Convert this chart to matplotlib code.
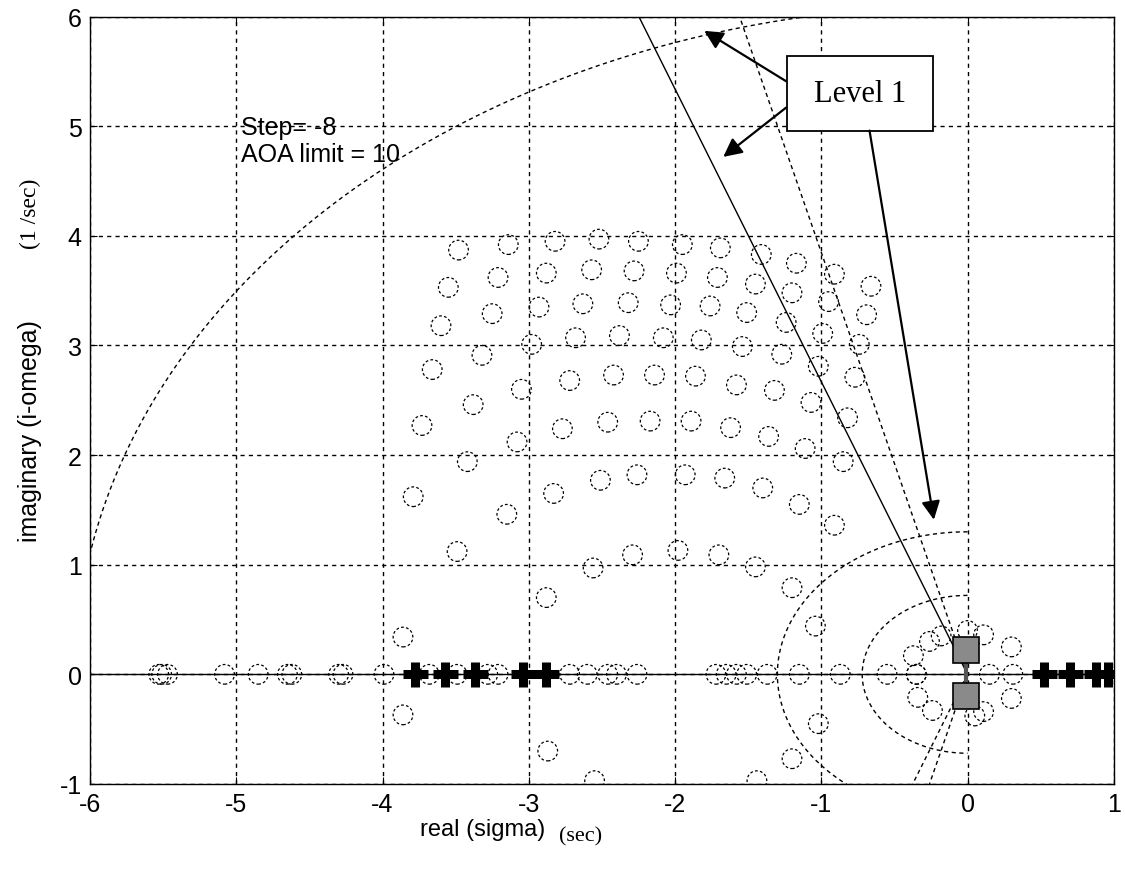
import numpy as np
import matplotlib
matplotlib.use("Agg")
import matplotlib.pyplot as plt
from matplotlib.patches import Rectangle

plt.rcParams['axes.unicode_minus'] = False
plt.rcParams['font.family'] = ['Liberation Sans', 'DejaVu Sans']

# pole positions (real, imag)
upper_re = [-3.48, -3.14, -2.82, -2.52, -2.25, -1.95, -1.69, -1.41, -1.17, -0.91, -0.66,
            -3.55, -3.21, -2.88, -2.57, -2.28, -1.99, -1.71, -1.45, -1.20, -0.95, -0.69,
            -3.60, -3.25, -2.93, -2.63, -2.32, -2.03, -1.76, -1.51, -1.24, -0.99, -0.74,
            -3.66, -3.32, -2.98, -2.68, -2.38, -2.08, -1.82, -1.54, -1.27, -1.02, -0.77,
            -3.73, -3.38, -3.05, -2.72, -2.42, -2.14, -1.86, -1.58, -1.32, -1.07, -0.82,
            -3.79, -3.42, -3.08, -2.77, -2.46, -2.17, -1.89, -1.62, -1.36, -1.11, -0.85,
            -3.15, -2.83, -2.51, -2.26, -1.93, -1.66, -1.40, -1.15, -0.91,
            -3.86, -3.49, -2.88, -2.56, -2.29, -1.98, -1.70, -1.45, -1.20, -1.04]
upper_im = [3.87, 3.92, 3.95, 3.97, 3.95, 3.92, 3.89, 3.83, 3.75, 3.65, 3.54,
            3.53, 3.62, 3.66, 3.69, 3.68, 3.66, 3.62, 3.56, 3.48, 3.40, 3.28,
            3.18, 3.29, 3.35, 3.38, 3.39, 3.37, 3.36, 3.30, 3.21, 3.11, 3.01,
            2.78, 2.91, 3.01, 3.07, 3.09, 3.07, 3.05, 2.99, 2.92, 2.81, 2.71,
            2.27, 2.46, 2.60, 2.68, 2.73, 2.73, 2.72, 2.64, 2.59, 2.48, 2.34,
            1.62, 1.94, 2.12, 2.24, 2.30, 2.31, 2.31, 2.25, 2.17, 2.06, 1.94,
            1.46, 1.65, 1.77, 1.82, 1.82, 1.79, 1.70, 1.55, 1.36,
            0.34, 1.12, 0.70, 0.97, 1.09, 1.13, 1.09, 0.98, 0.79, 0.44]

lower_re = [-3.86, -2.87, -2.55, -1.44, -1.20, -1.02]
lower_im = [-0.37, -0.70, -0.97, -0.97, -0.77, -0.45]

origin_re = [-0.37, -0.26, -0.18, 0.11, 0.30, 0.30, 0.11, -0.24, -0.34, -0.35, 0.15, 0.31, 0.00, 0.05]
origin_im = [0.17, 0.30, 0.35, 0.36, 0.25, -0.22, -0.34, -0.33, -0.21, 0.00, 0.00, 0.00, 0.40, -0.38]

axis_re = [-5.53, -5.51, -5.47, -5.08, -4.85, -4.65, -4.62, -4.30, -4.27, -3.99,
           -3.68, -3.49, -3.28, -3.21, -2.72, -2.60, -2.46, -2.40, -2.26,
           -1.72, -1.65, -1.58, -1.51, -1.37, -1.15, -0.87, -0.55, -0.35]

zero_re = [-3.78, -3.57, -3.37, -3.04, -2.88, 0.52, 0.70, 0.88, 0.96]

square_re = [-0.013, -0.013]
square_im = [0.22, -0.20]

damping_slopes = [2.67, 3.85]
freq_radii = [6.1, 1.3, 0.72]

fig = plt.figure(figsize=(11.25, 8.79), dpi=100)
ax = fig.add_axes([0.080, 0.107, 0.910, 0.873])

dash = (0, (3, 2.5))

# root locus circles
circ_re = upper_re + lower_re + origin_re + axis_re
circ_im = upper_im + lower_im + origin_im + [0.0] * len(axis_re)
ax.scatter(circ_re, circ_im, s=200, facecolors='none', edgecolors='k',
           linewidths=0.9, linestyles=(0, (2.2, 1.8)), zorder=3)

# real axis
ax.axhline(0, color='k', lw=1.0, zorder=2)

# zeros (fat crosses)
ax.plot(zero_re, [0.0] * len(zero_re), '+', color='k', ms=18, mew=6.5, zorder=4)

# gray squares near origin
ax.plot(square_re, square_im, 's', ms=19, mfc='#8a8a8a', mec='k', mew=1.2, zorder=4)
ax.plot([square_re[0], square_re[1]], [square_im[0], square_im[1]], color='#555555', lw=3, zorder=3)

# damping lines
for i, m in enumerate(damping_slopes):
    xs = np.array([0, -6.0 / m])
    ax.plot(xs, -m * xs, color='k', lw=1.0, ls='-' if i == 0 else dash, zorder=2)
    xl = np.array([0, -1.0 / m])
    ax.plot(xl, m * xl, color='k', lw=1.0, ls=dash, zorder=2)

# natural frequency arcs
for i, r in enumerate(freq_radii):
    th = np.linspace(np.pi / 2, np.pi if i == 0 else 1.5 * np.pi, 300)
    ax.plot(r * np.cos(th), r * np.sin(th), color='k', lw=1.0, ls=dash, zorder=2)

ax.set_xlim(-6, 1)
ax.set_ylim(-1, 6)
ax.set_xticks(range(-6, 2))
ax.set_yticks(range(-1, 7))
ax.grid(True, color='k', lw=1.0, ls=(0, (3, 3)))
ax.tick_params(direction='in', length=5, labelsize=18, top=True, right=True, pad=6)
for s in ax.spines.values():
    s.set_linewidth(1.0)

ax.text(-4.97, 5.10, "Step= -8\nAOA limit = 10", fontsize=18, va='top', ha='left',
        linespacing=1.15, zorder=5)

# Level 1 annotation
ax.add_patch(Rectangle((-1.235, 4.96), 0.998, 0.676, facecolor='white', edgecolor='k',
                       lw=1.3, zorder=6))
ax.text(-0.736, 5.30, "Level 1", fontsize=22, family='Liberation Serif',
        ha='center', va='center', zorder=7)
arrows = [((-1.24, 5.41), (-1.80, 5.87)),
          ((-1.24, 5.17), (-1.67, 4.72)),
          ((-0.67, 4.96), (-0.23, 1.41))]
for start, end in arrows:
    ax.annotate("", xy=end, xytext=start,
                arrowprops=dict(arrowstyle='-|>', color='k', lw=1.6,
                                mutation_scale=28, shrinkA=0, shrinkB=0), zorder=6)

fig.text(0.429, 0.056, "real (sigma)", fontsize=17, ha='center', va='center')
fig.text(0.516, 0.048, "(sec)", fontsize=16, family='Liberation Serif', ha='center', va='center')
fig.text(0.027, 0.51, "imaginary (i-omega)", fontsize=18, rotation=90, ha='center', va='center')
fig.text(0.027, 0.757, "(1 /sec)", fontsize=17, family='Liberation Serif', rotation=90,
         ha='center', va='center')

fig.savefig("out.png", dpi=100)
